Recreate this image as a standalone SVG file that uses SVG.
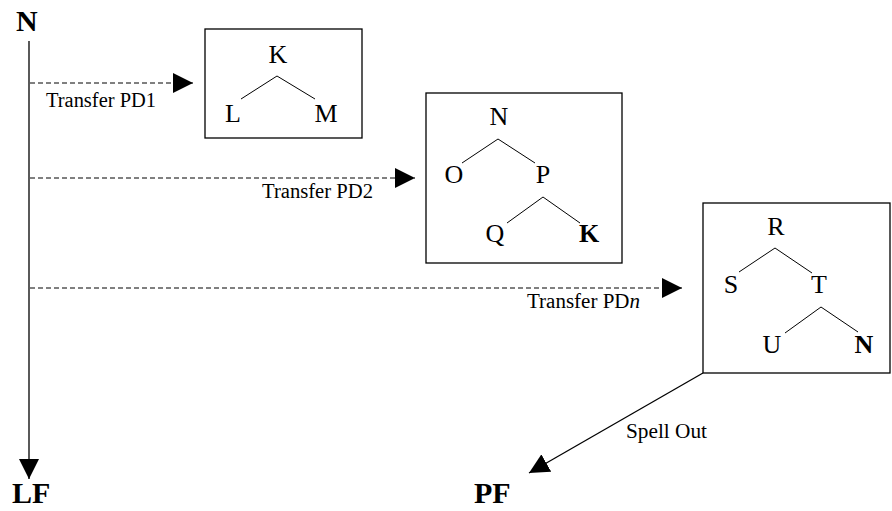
<svg xmlns="http://www.w3.org/2000/svg" width="892" height="511" viewBox="0 0 892 511">
<style>
.box{fill:#fff;stroke:#000;stroke-width:1.3}
.br{fill:none;stroke:#000;stroke-width:1}
.nd{font-family:"Liberation Serif","Times New Roman",serif;font-size:26px;text-anchor:middle;fill:#000}
.b{font-weight:bold}
.big{font-family:"Liberation Serif","Times New Roman",serif;font-size:30px;font-weight:bold;fill:#000}
.lbl{font-family:"Liberation Serif","Times New Roman",serif;font-size:20px;fill:#000}
.dash{fill:none;stroke:#000;stroke-width:1;stroke-dasharray:5 3}
.solid{fill:none;stroke:#000;stroke-width:1.3}
</style>
<defs>
<marker id="ah" viewBox="0 0 20 20" refX="20" refY="10" markerWidth="20" markerHeight="20" markerUnits="userSpaceOnUse" orient="auto">
<path d="M0,0 L20,10 L0,20 Z" fill="#000"/>
</marker>
</defs>
<g id="connectors">
<line class="solid" x1="29" y1="41" x2="29" y2="479" marker-end="url(#ah)"/>
<line class="dash" x1="30" y1="83" x2="193" y2="83" marker-end="url(#ah)"/>
<line class="dash" x1="30" y1="178" x2="415" y2="178" marker-end="url(#ah)"/>
<line class="dash" x1="30" y1="288" x2="682" y2="288" marker-end="url(#ah)"/>
<line class="solid" x1="703" y1="373" x2="529" y2="473" marker-end="url(#ah)"/>
<text class="lbl" x="46" y="107" textLength="110" lengthAdjust="spacingAndGlyphs">Transfer PD1</text>
<text class="lbl" x="262" y="198" textLength="111" lengthAdjust="spacingAndGlyphs">Transfer PD2</text>
<text class="lbl" x="527" y="308" textLength="113" lengthAdjust="spacingAndGlyphs">Transfer PD<tspan font-style="italic">n</tspan></text>
<text class="lbl" x="626" y="438" textLength="81" lengthAdjust="spacingAndGlyphs">Spell Out</text>
</g>
<g id="N-top"><text class="big" x="16" y="31" font-size="28">N</text></g>
<g id="LF"><text class="big" x="12" y="503">LF</text></g>
<g id="PF"><text class="big" x="474" y="503">PF</text></g>
<g id="tree1">
<rect class="box" x="205" y="29" width="157" height="109"/>
<polyline class="br" points="241,99 277,76 315,99"/>
<text class="nd" x="278" y="63">K</text>
<text class="nd" x="233" y="122">L</text>
<text class="nd" x="326" y="122">M</text>
</g>
<g id="tree2">
<rect class="box" x="426" y="93" width="196" height="170"/>
<polyline class="br" points="462,163 498,139 535,163"/>
<polyline class="br" points="507,223 543,197 580,223"/>
<text class="nd" x="499" y="125">N</text>
<text class="nd" x="454" y="183">O</text>
<text class="nd" x="543" y="183">P</text>
<text class="nd" x="495" y="242">Q</text>
<text class="nd b" x="589" y="242">K</text>
</g>
<g id="tree3">
<rect class="box" x="703" y="203" width="187" height="170"/>
<polyline class="br" points="739,272 775,248 812,273"/>
<polyline class="br" points="785,333 821,307 858,332"/>
<text class="nd" x="776" y="235">R</text>
<text class="nd" x="731" y="293">S</text>
<text class="nd" x="819" y="293">T</text>
<text class="nd" x="772" y="353">U</text>
<text class="nd b" x="864" y="353">N</text>
</g>
</svg>
